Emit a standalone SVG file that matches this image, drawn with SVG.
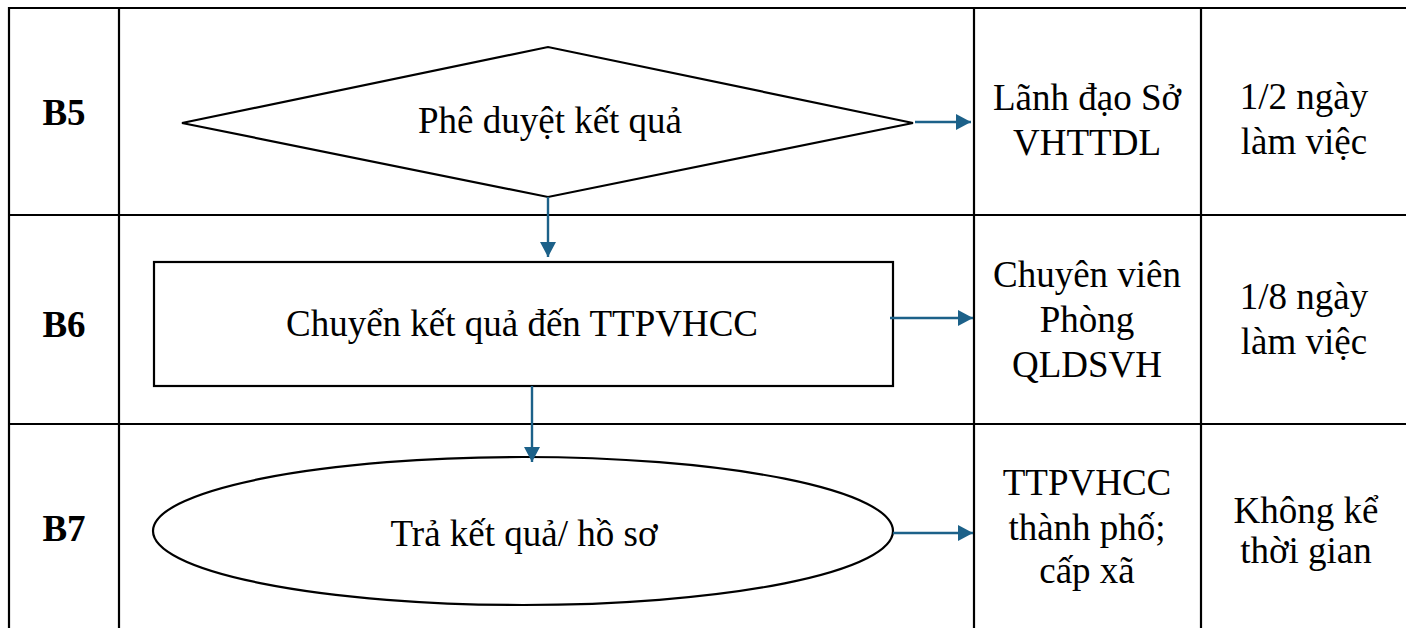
<svg xmlns="http://www.w3.org/2000/svg" width="1406" height="628" viewBox="0 0 1406 628">
<style>
.grid{stroke:#000;stroke-width:2.2;fill:none}
.shape{stroke:#000;stroke-width:2.2;fill:#fff}
.t{font-family:"Liberation Serif","Times New Roman",serif;font-size:37px;fill:#000;text-anchor:middle}
.b{font-weight:bold}
.conn{stroke:#1c6189;stroke-width:2.4;fill:none}
</style>
<defs>
<marker id="ah" markerUnits="userSpaceOnUse" markerWidth="16" markerHeight="16" refX="15" refY="8" orient="auto">
<path d="M0,0 L15,8 L0,16 z" fill="#1c6189"/>
</marker>
</defs>
<rect width="1406" height="628" fill="#fff"/>
<g id="table">
<line class="grid" x1="9" y1="8" x2="1406" y2="8"/>
<line class="grid" x1="9" y1="215" x2="1406" y2="215"/>
<line class="grid" x1="9" y1="424" x2="1406" y2="424"/>
<line class="grid" x1="9" y1="7" x2="9" y2="628"/>
<line class="grid" x1="119" y1="7" x2="119" y2="628"/>
<line class="grid" x1="974" y1="7" x2="974" y2="628"/>
<line class="grid" x1="1201" y1="7" x2="1201" y2="628"/>
</g>
<g id="steps">
<text class="t b" x="64" y="125">B5</text>
<text class="t b" x="64" y="337">B6</text>
<text class="t b" x="64" y="541">B7</text>
</g>
<g id="node-b5">
<polygon class="shape" points="182,123 548,47 913,123 548,197"/>
<text class="t" x="550" y="133">Phê duyệt kết quả</text>
</g>
<g id="node-b6">
<rect class="shape" x="154" y="262" width="739" height="124"/>
<text class="t" x="522" y="336">Chuyển kết quả đến TTPVHCC</text>
</g>
<g id="node-b7">
<ellipse class="shape" cx="523" cy="531" rx="370" ry="74"/>
<text class="t" x="524" y="546">Trả kết quả/ hồ sơ</text>
</g>
<g id="connectors">
<line class="conn" x1="915" y1="122" x2="971" y2="122" marker-end="url(#ah)"/>
<line class="conn" x1="548" y1="197" x2="548" y2="257" marker-end="url(#ah)"/>
<line class="conn" x1="890" y1="318" x2="973" y2="318" marker-end="url(#ah)"/>
<line class="conn" x1="532" y1="386" x2="532" y2="462" marker-end="url(#ah)"/>
<line class="conn" x1="893" y1="533" x2="973" y2="533" marker-end="url(#ah)"/>
</g>
<g id="who">
<text class="t" x="1087" y="110">Lãnh đạo Sở</text>
<text class="t" x="1087" y="155">VHTTDL</text>
<text class="t" x="1087" y="287">Chuyên viên</text>
<text class="t" x="1087" y="332">Phòng</text>
<text class="t" x="1087" y="377">QLDSVH</text>
<text class="t" x="1087" y="495">TTPVHCC</text>
<text class="t" x="1087" y="540">thành phố;</text>
<text class="t" x="1087" y="583">cấp xã</text>
</g>
<g id="time">
<text class="t" x="1304" y="109">1/2 ngày</text>
<text class="t" x="1304" y="154">làm việc</text>
<text class="t" x="1304" y="309">1/8 ngày</text>
<text class="t" x="1304" y="354">làm việc</text>
<text class="t" x="1306" y="523">Không kể</text>
<text class="t" x="1306" y="563">thời gian</text>
</g>
</svg>
